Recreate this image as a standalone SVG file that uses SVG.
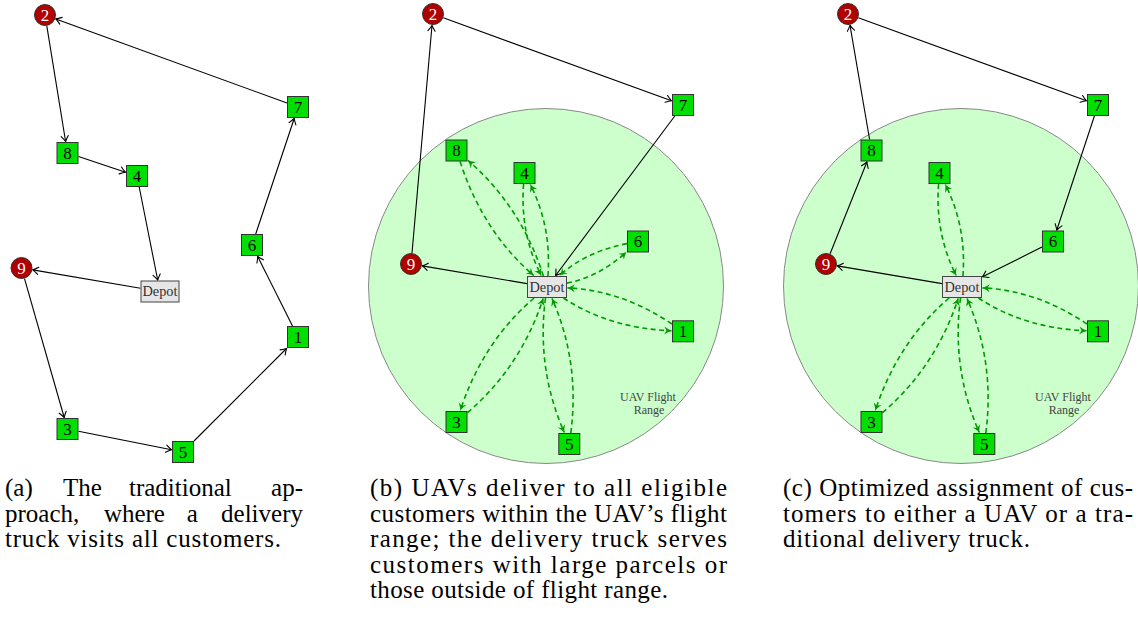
<svg xmlns="http://www.w3.org/2000/svg" width="1138" height="621" viewBox="0 0 1138 621">
<style>
.sq{fill:#00e000;stroke:#333;stroke-width:1}
.rc{fill:#b00000;stroke:#333;stroke-width:1}
.dp{fill:#e6e6e6;stroke:#444;stroke-width:1}
.lbl{font-family:"Liberation Serif",serif;font-size:17px;fill:#000;text-anchor:middle}
.wl{font-family:"Liberation Serif",serif;font-size:17px;fill:#fff;text-anchor:middle}
.dl{font-family:"Liberation Serif",serif;font-size:14px;fill:#333;text-anchor:middle}
.tr{fill:none;stroke:#000;stroke-width:1.1;marker-end:url(#ah)}
.uav{fill:none;stroke:#009900;stroke-width:1.6;stroke-dasharray:5 3.5;marker-end:url(#gh)}
.range{fill:#ccffcc;stroke:#888;stroke-width:1}
.rt{font-family:"Liberation Serif",serif;font-size:12px;fill:#444;text-anchor:middle}
.cap{font-family:"Liberation Serif",serif;font-size:25px;fill:#000}
</style>
<defs>
<marker id="ah" markerUnits="userSpaceOnUse" markerWidth="12" markerHeight="12" viewBox="-8 -6 10 12" refX="0" refY="0" orient="auto" overflow="visible">
<path d="M-5.5,-3.6 Q-2,-1 0,0 Q-2,1 -5.5,3.6" fill="none" stroke="#000" stroke-width="1.1" stroke-linecap="round"/>
</marker>
<marker id="gh" markerUnits="userSpaceOnUse" markerWidth="12" markerHeight="12" viewBox="-8 -6 10 12" refX="0" refY="0" orient="auto" overflow="visible">
<path d="M0,0 Q-3.5,-1.3 -7.2,-4 L-5,0 L-7.2,4 Q-3.5,1.3 0,0Z" fill="#009900"/>
</marker>
</defs>

<!-- Panel (a) -->
<g id="a-connectors">
<path class="tr" d="M46.8,25.9 L65.6,141.5"/>
<path class="tr" d="M78.5,156.6 L125.5,172.2"/>
<path class="tr" d="M139.2,187 L157.7,280"/>
<path class="tr" d="M140.5,288.2 L32.8,269.9"/>
<path class="tr" d="M24.5,278.6 L64.2,417.5"/>
<path class="tr" d="M78.5,431.2 L171.5,449.7"/>
<path class="tr" d="M194,441 L286.5,348.5"/>
<path class="tr" d="M292.5,326 L257.7,256.5"/>
<path class="tr" d="M255.7,234 L294.2,118.5"/>
<path class="tr" d="M287,103 L55.8,18.9"/>
</g>
<g id="a-node-2"><circle class="rc" cx="45" cy="15" r="10.5"/><text class="wl" x="45" y="20.8">2</text></g>
<g id="a-node-7"><rect class="sq" x="287.5" y="96.5" width="21" height="21"/><text class="lbl" x="298" y="112.8">7</text></g>
<g id="a-node-8"><rect class="sq" x="57" y="142.5" width="21" height="21"/><text class="lbl" x="67.5" y="158.8">8</text></g>
<g id="a-node-4"><rect class="sq" x="126.5" y="165.5" width="21" height="21"/><text class="lbl" x="137" y="181.8">4</text></g>
<g id="a-depot"><rect class="dp" x="141" y="281" width="38" height="21"/><text class="dl" x="160" y="296" textLength="35" lengthAdjust="spacingAndGlyphs">Depot</text></g>
<g id="a-node-9"><circle class="rc" cx="21.5" cy="268" r="10.5"/><text class="wl" x="21.5" y="273.8">9</text></g>
<g id="a-node-6"><rect class="sq" x="241.5" y="234.5" width="21" height="21"/><text class="lbl" x="252" y="250.8">6</text></g>
<g id="a-node-1"><rect class="sq" x="287.5" y="326.5" width="21" height="21"/><text class="lbl" x="298" y="342.8">1</text></g>
<g id="a-node-3"><rect class="sq" x="57" y="418.5" width="21" height="21"/><text class="lbl" x="67.5" y="434.8">3</text></g>
<g id="a-node-5"><rect class="sq" x="172.5" y="441.5" width="21" height="21"/><text class="lbl" x="183" y="457.8">5</text></g>

<!-- Panel (b) -->
<g id="b-range"><circle class="range" cx="546" cy="286" r="177.5"/><text class="rt" x="648" y="401">UAV Flight</text><text class="rt" x="649" y="414">Range</text></g>
<g id="b-connectors">
<path class="tr" d="M443.3,17.8 L671.5,100.8"/>
<path class="tr" d="M674.8,116 L555.6,275.5"/>
<path class="tr" d="M527,283.6 L422.3,265.9"/>
<path class="tr" d="M412,253 L432,25.5"/>
<path class="uav" d="M543.4,276 Q520.85,206.1 468,160.4"/>
<path class="uav" d="M460.1,161.5 Q482.65,231.4 533.7,275.5"/>
<path class="uav" d="M547.9,276 Q551.7,226.85 530.3,184.5"/>
<path class="uav" d="M523.6,184 Q519.8,233.15 541.2,275.5"/>
<path class="uav" d="M567,283.1 Q598.9,277 626.5,251.9"/>
<path class="uav" d="M627,243.6 Q586.1,251.5 559.7,275.5"/>
<path class="uav" d="M563.5,298 Q608.8,328.2 671.5,330.8"/>
<path class="uav" d="M672,324 Q621.2,290.1 567.5,287.9"/>
<path class="uav" d="M534.1,298 Q482.85,341.8 460.3,410.5"/>
<path class="uav" d="M467.5,412.6 Q520.65,367.2 543.2,298.5"/>
<path class="uav" d="M545.5,298 Q536.2,368.6 564.3,432.5"/>
<path class="uav" d="M570.8,433 Q580.1,362.4 552,298.5"/>
</g>
<g id="b-node-2"><circle class="rc" cx="433" cy="14" r="10.5"/><text class="wl" x="433" y="19.8">2</text></g>
<g id="b-node-7"><rect class="sq" x="672.5" y="94.5" width="21" height="21"/><text class="lbl" x="683" y="110.8">7</text></g>
<g id="b-node-8"><rect class="sq" x="446" y="140" width="21" height="21"/><text class="lbl" x="456.5" y="156.3">8</text></g>
<g id="b-node-4"><rect class="sq" x="514" y="162.5" width="21" height="21"/><text class="lbl" x="524.5" y="178.8">4</text></g>
<g id="b-node-6"><rect class="sq" x="627.5" y="231" width="21" height="21"/><text class="lbl" x="638" y="247.3">6</text></g>
<g id="b-node-9"><circle class="rc" cx="411" cy="264" r="10.5"/><text class="wl" x="411" y="269.8">9</text></g>
<g id="b-depot"><rect class="dp" x="527.5" y="276.5" width="39" height="21"/><text class="dl" x="547" y="291.5" textLength="35" lengthAdjust="spacingAndGlyphs">Depot</text></g>
<g id="b-node-1"><rect class="sq" x="672.5" y="320.8" width="21" height="21"/><text class="lbl" x="683" y="337.1">1</text></g>
<g id="b-node-3"><rect class="sq" x="446" y="411.5" width="21" height="21"/><text class="lbl" x="456.5" y="427.8">3</text></g>
<g id="b-node-5"><rect class="sq" x="558.8" y="433.5" width="21" height="21"/><text class="lbl" x="569.3" y="449.8">5</text></g>

<!-- Panel (c) -->
<g transform="translate(415,0)">
<g id="c-range"><circle class="range" cx="546" cy="286" r="177.5"/><text class="rt" x="648" y="401">UAV Flight</text><text class="rt" x="649" y="414">Range</text></g>
<g id="c-connectors">
<path class="tr" d="M443.3,17.8 L671.5,100.8"/>
<path class="tr" d="M679.4,116 L641.8,230"/>
<path class="tr" d="M627,247 L567.5,276.8"/>
<path class="tr" d="M527,283.6 L422.3,265.9"/>
<path class="tr" d="M415.1,253.8 L451.9,162"/>
<path class="tr" d="M454.6,139.5 L435,25.3"/>
<path class="uav" d="M547.9,276 Q551.7,226.85 530.3,184.5"/>
<path class="uav" d="M523.6,184 Q519.8,233.15 541.2,275.5"/>
<path class="uav" d="M563.5,298 Q608.8,328.2 671.5,330.8"/>
<path class="uav" d="M672,324 Q621.2,290.1 567.5,287.9"/>
<path class="uav" d="M534.1,298 Q482.85,341.8 460.3,410.5"/>
<path class="uav" d="M467.5,412.6 Q520.65,367.2 543.2,298.5"/>
<path class="uav" d="M545.5,298 Q536.2,368.6 564.3,432.5"/>
<path class="uav" d="M570.8,433 Q580.1,362.4 552,298.5"/>
</g>
<g id="c-node-2"><circle class="rc" cx="433" cy="14" r="10.5"/><text class="wl" x="433" y="19.8">2</text></g>
<g id="c-node-7"><rect class="sq" x="672.5" y="94.5" width="21" height="21"/><text class="lbl" x="683" y="110.8">7</text></g>
<g id="c-node-8"><rect class="sq" x="446" y="140" width="21" height="21"/><text class="lbl" x="456.5" y="156.3">8</text></g>
<g id="c-node-4"><rect class="sq" x="514" y="162.5" width="21" height="21"/><text class="lbl" x="524.5" y="178.8">4</text></g>
<g id="c-node-6"><rect class="sq" x="627.5" y="231" width="21" height="21"/><text class="lbl" x="638" y="247.3">6</text></g>
<g id="c-node-9"><circle class="rc" cx="411" cy="264" r="10.5"/><text class="wl" x="411" y="269.8">9</text></g>
<g id="c-depot"><rect class="dp" x="527.5" y="276.5" width="39" height="21"/><text class="dl" x="547" y="291.5" textLength="35" lengthAdjust="spacingAndGlyphs">Depot</text></g>
<g id="c-node-1"><rect class="sq" x="672.5" y="320.8" width="21" height="21"/><text class="lbl" x="683" y="337.1">1</text></g>
<g id="c-node-3"><rect class="sq" x="446" y="411.5" width="21" height="21"/><text class="lbl" x="456.5" y="427.8">3</text></g>
<g id="c-node-5"><rect class="sq" x="558.8" y="433.5" width="21" height="21"/><text class="lbl" x="569.3" y="449.8">5</text></g>
</g>

<!-- Captions -->
<g id="caption-a" class="cap">
<text x="5" y="496">(a)</text><text x="63" y="496">The</text><text x="129" y="496">traditional</text><text x="303" y="496" text-anchor="end">ap-</text>
<text x="5" y="521.5">proach,</text><text x="103.9" y="521.5">where</text><text x="186.8" y="521.5">a</text><text x="303" y="521.5" text-anchor="end">delivery</text>
<text x="5" y="547" textLength="276" lengthAdjust="spacing">truck visits all customers.</text>
</g>
<g id="caption-b" class="cap">
<text x="370" y="496" textLength="357" lengthAdjust="spacing">(b) UAVs deliver to all eligible</text>
<text x="370" y="521.5" textLength="357" lengthAdjust="spacing">customers within the UAV’s flight</text>
<text x="370" y="547" textLength="357" lengthAdjust="spacing">range; the delivery truck serves</text>
<text x="370" y="572.5" textLength="357" lengthAdjust="spacing">customers with large parcels or</text>
<text x="370" y="598" textLength="298" lengthAdjust="spacing">those outside of flight range.</text>
</g>
<g id="caption-c" class="cap">
<text x="783" y="496" textLength="350" lengthAdjust="spacing">(c) Optimized assignment of cus-</text>
<text x="783" y="521.5" textLength="350" lengthAdjust="spacing">tomers to either a UAV or a tra-</text>
<text x="783" y="547" textLength="247" lengthAdjust="spacing">ditional delivery truck.</text>
</g>
</svg>
